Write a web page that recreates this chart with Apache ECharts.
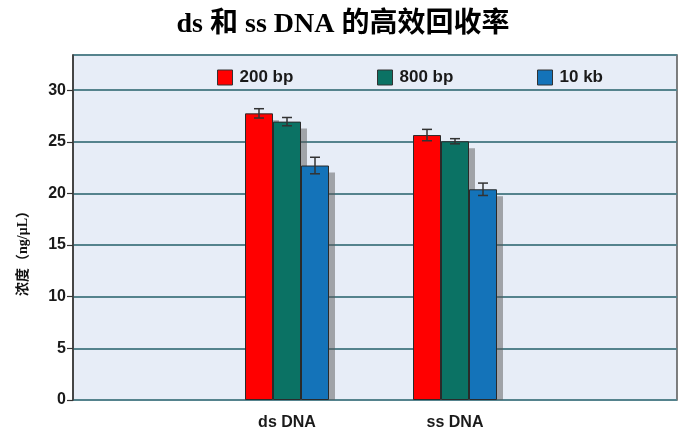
<!DOCTYPE html>
<html>
<head>
<meta charset="utf-8">
<script src="https://cdn.jsdelivr.net/npm/echarts@6/dist/echarts.min.js"></script>
<style>
html,body{margin:0;padding:0;background:#fff;}
#chart{width:686px;height:432px;}
</style>
</head>
<body>
<div id="chart"></div>
<script>
const titleText = 'ds 和 ss DNA 的高效回收率';
const yAxisName = '浓度（ng/μL）';
const categories = ['ds DNA', 'ss DNA'];
const seriesNames = ['200 bp', '800 bp', '10 kb'];
const values200 = [27.75, 25.65];
const errors200 = [0.45, 0.55];
const values800 = [26.95, 25.05];
const errors800 = [0.4, 0.25];
const values10k = [22.7, 20.4];
const errors10k = [0.8, 0.6];
const yTicks = [0, 5, 10, 15, 20, 25, 30];

const colors = ['#ff0000', '#0b7264', '#1473b9'];
const allValues = [values200, values800, values10k];
const allErrors = [errors200, errors800, errors10k];

const Y_MAX = 33.4;
const boldFont = "'Liberation Sans', Arial, sans-serif";

const errData = [];
const shadowData = [];
allValues.forEach((vals, k) => {
  vals.forEach((v, i) => {
    errData.push([i, v - allErrors[k][i], v + allErrors[k][i], k]);
    shadowData.push([i, v, k]);
  });
});

const chart = echarts.init(document.getElementById('chart'));

const legendLefts = [212, 372, 532];

const option = {
  backgroundColor: '#ffffff',
  animation: false,
  title: {
    text: titleText,
    left: 'center',
    top: 6,
    textStyle: {
      fontFamily: "'Liberation Serif', 'Noto Sans CJK SC', serif",
      fontWeight: 'bold',
      fontSize: 28,
      color: '#000'
    }
  },
  legend: seriesNames.map((n, k) => ({
    data: [n],
    left: legendLefts[k],
    top: 64,
    itemWidth: 15,
    itemHeight: 15,
    itemGap: 8,
    icon: 'rect',
    selectedMode: false,
    itemStyle: { borderColor: '#333', borderWidth: 1 },
    textStyle: { fontFamily: boldFont, fontWeight: 'bold', fontSize: 17, color: '#1a1a1a', padding: [0, 0, 0, 2] }
  })),
  graphic: [{
    type: 'text',
    left: 16,
    top: 204,
    rotation: Math.PI / 2,
    style: {
      text: yAxisName,
      fontFamily: "'Liberation Serif', 'Noto Sans CJK SC', serif",
      fontWeight: 'bold',
      fontSize: 14,
      fill: '#111'
    }
  }],
  grid: [
    { left: 73, right: 9, top: 55, bottom: 32, show: true, backgroundColor: '#e7edf7', borderColor: '#555', borderWidth: 1.5 },
    { left: 203, right: 147, top: 55, bottom: 32 }
  ],
  xAxis: [
    { type: 'category', gridIndex: 0, data: [''], show: false },
    {
      type: 'category', gridIndex: 1, data: categories,
      axisLine: { show: false }, axisTick: { show: false },
      axisLabel: { margin: 15, fontFamily: boldFont, fontWeight: 'bold', fontSize: 16, color: '#1a1a1a' }
    }
  ],
  yAxis: [
    {
      type: 'value', gridIndex: 0, min: 0, max: Y_MAX, interval: 5,
      axisLine: { show: true, lineStyle: { color: '#333', width: 1.5 } },
      axisTick: { show: true, length: 6, lineStyle: { color: '#333', width: 1.2 } },
      axisLabel: {
        margin: 7, fontFamily: boldFont, fontWeight: 'bold', fontSize: 16, color: '#1a1a1a',
        showMaxLabel: false,
        formatter: v => (yTicks.indexOf(v) >= 0 ? String(v) : '')
      },
      splitLine: { show: true, lineStyle: { color: '#55838d', width: 2 } }
    },
    { type: 'value', gridIndex: 1, min: 0, max: Y_MAX, show: false }
  ],
  series: [{
    type: 'custom',
    xAxisIndex: 1,
    yAxisIndex: 1,
    z: 1,
    silent: true,
    data: shadowData,
    renderItem: function (params, api) {
      const cat = api.value(0);
      const v = api.value(1);
      const k = api.value(2);
      const band = api.size([1, 0])[0];
      const bw = band / 6;
      const pTop = api.coord([cat, v]);
      const pBot = api.coord([cat, 0]);
      const x0 = pTop[0] + (k - 1) * bw - bw / 2 + 6;
      return {
        type: 'rect',
        shape: { x: x0, y: pTop[1] + 7, width: bw, height: pBot[1] - pTop[1] - 7 },
        style: { fill: 'rgba(90,90,90,0.5)' }
      };
    }
  }].concat(allValues.map((vals, k) => ({
    name: seriesNames[k],
    type: 'bar',
    xAxisIndex: 1,
    yAxisIndex: 1,
    z: 2,
    data: vals,
    barGap: '0%',
    barCategoryGap: '50%',
    itemStyle: {
      color: colors[k],
      borderColor: '#2a2a2a',
      borderWidth: 1
    }
  }))).concat([{
    type: 'custom',
    xAxisIndex: 1,
    yAxisIndex: 1,
    z: 10,
    silent: true,
    data: errData,
    renderItem: function (params, api) {
      const cat = api.value(0);
      const lo = api.value(1);
      const hi = api.value(2);
      const k = api.value(3);
      const band = api.size([1, 0])[0];
      const bw = band / 6;
      const pHi = api.coord([cat, hi]);
      const pLo = api.coord([cat, lo]);
      const cx = pHi[0] + (k - 1) * bw;
      const cap = 5;
      const st = { stroke: '#333', lineWidth: 1.5 };
      return {
        type: 'group',
        children: [
          { type: 'line', shape: { x1: cx, y1: pHi[1], x2: cx, y2: pLo[1] }, style: st },
          { type: 'line', shape: { x1: cx - cap, y1: pHi[1], x2: cx + cap, y2: pHi[1] }, style: st },
          { type: 'line', shape: { x1: cx - cap, y1: pLo[1], x2: cx + cap, y2: pLo[1] }, style: st }
        ]
      };
    }
  }])
};

chart.setOption(option);
</script>
</body>
</html>
